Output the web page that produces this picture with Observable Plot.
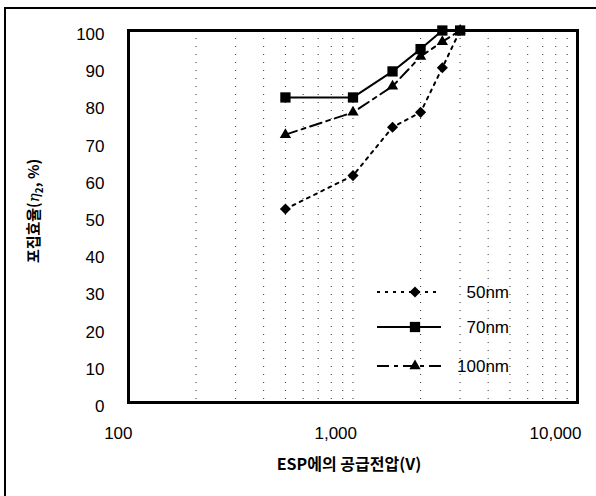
<!DOCTYPE html>
<html><head><meta charset="utf-8">
<script src="https://cdn.jsdelivr.net/npm/d3@7"></script>
<script src="https://cdn.jsdelivr.net/npm/@observablehq/plot@0.6"></script>
<style>
body{margin:0;background:#fff}
#chart{position:relative;width:596px;height:496px}
</style>
</head><body><div id="chart"></div>
<script>
// ---- data ----
const voltages = [500, 1000, 1500, 2000, 2500, 3000];
const eff50 = [52, 61, 74, 78, 90, 100];
const eff70 = [82, 82, 89, 95, 100, 100];
const eff100 = [72, 78, 85, 93, 97, 100];
const seriesNames = ["50nm", "70nm", "100nm"];
const xTicks = [100, 1000, 10000];
const xTickLabels = ["100", "1,000", "10,000"];
const yTicks = [0, 10, 20, 30, 40, 50, 60, 70, 80, 90, 100];
const gridX = [200, 300, 400, 500, 600, 700, 800, 900, 1000, 2000, 3000, 4000, 5000, 6000, 7000, 8000, 9000];
const xTitle = "ESP에의 공급전압(V)";

const styles = {
  "50nm": {symbol: "diamond2", r: 5, dash: "3,5"},
  "70nm": {symbol: "square", r: 5.8, dash: null},
  "100nm": {symbol: "triangle", r: 4.2, dash: "12,5,4,5"}
};
const seriesValues = [eff50, eff70, eff100];
const rows = seriesNames.flatMap((s, i) => voltages.map((v, j) => ({series: s, v, e: seriesValues[i][j]})));

const font = "'Liberation Sans', Arial, sans-serif";
const marks = [
  Plot.ruleX(gridX, {stroke: "#333", strokeWidth: 1, strokeDasharray: "1,7"}),
];
seriesNames.forEach(s => {
  const d = rows.filter(r => r.series === s);
  marks.push(Plot.line(d, {x: "v", y: "e", stroke: "black", strokeWidth: 2, strokeDasharray: styles[s].dash}));
  marks.push(Plot.dot(d, {x: "v", y: "e", symbol: () => styles[s].symbol, r: styles[s].r, fill: "black", stroke: "none"}));
});
marks.push(
  Plot.axisX(xTicks, {tickSize: 0, tickPadding: 24, textAnchor: "end", dx: 4, tickFormat: d => xTickLabels[xTicks.indexOf(d)], fontSize: 17, label: null}),
  Plot.axisY(yTicks, {tickSize: 0, tickPadding: 24, dy: 4, fontSize: 17, label: null}),
  Plot.frame({stroke: "black", strokeWidth: 3})
);

const plot = Plot.plot({
  width: 596, height: 496,
  marginLeft: 128, marginRight: 19, marginTop: 30, marginBottom: 94,
  style: {fontFamily: font, color: "black", background: "white", overflow: "visible"},
  x: {type: "log", domain: [100, 10000]},
  y: {domain: [0, 100]},
  marks
});
document.getElementById("chart").appendChild(plot);

const svg = d3.select(plot);
// outer border (left and top only)
svg.append("path").attr("d", "M5,496V8H596")
  .attr("fill", "none").attr("stroke", "black").attr("stroke-width", 2);
// x title
svg.append("text").attr("x", 349).attr("y", 470).attr("text-anchor", "middle")
  .attr("font-family", "'Noto Sans CJK KR', sans-serif").attr("font-size", 16).attr("font-weight", 700)
  .text(xTitle);
// y title
const yt = svg.append("text").attr("transform", "translate(39,211) rotate(-90)").attr("text-anchor", "middle")
  .attr("font-family", "'Noto Sans CJK KR', sans-serif").attr("font-size", 15).attr("font-weight", 700);
yt.append("tspan").text("포집효율(");
yt.append("tspan").attr("font-style", "italic").attr("font-weight", 400).attr("font-family", "'DejaVu Serif', serif").text("η");
yt.append("tspan").attr("font-size", 10).attr("dy", 4).text("2");
yt.append("tspan").attr("dy", -4).text(", %)");
// legend
const legY = [292, 327, 366];
const lg = svg.append("g");
seriesNames.forEach((s, i) => {
  const st = styles[s];
  lg.append("line").attr("x1", 377).attr("x2", 441).attr("y1", legY[i]).attr("y2", legY[i])
    .attr("stroke", "black").attr("stroke-width", 2).attr("stroke-dasharray", st.dash);
  const sym = {diamond2: d3.symbolDiamond2, square: d3.symbolSquare, triangle: d3.symbolTriangle}[st.symbol];
  lg.append("path").attr("d", d3.symbol(sym, Math.PI * st.r * st.r)()).attr("transform", `translate(415,${legY[i]})`).attr("fill", "black");
  lg.append("text").attr("x", 509).attr("y", legY[i] + 6).attr("text-anchor", "end")
    .attr("font-family", font).attr("font-size", 17).text(s);
});
</script>
</body></html>
